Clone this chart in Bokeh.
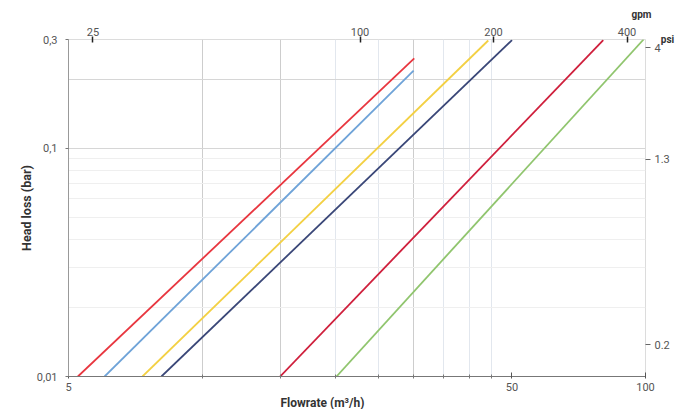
import math
from bokeh.plotting import figure
from bokeh.models import LogAxis, FixedTicker, Grid, Title, CustomJSTickFormatter
from bokeh.embed import file_html
from bokeh.resources import INLINE

# ---- data ----
series_names = ["A", "B", "C", "D", "E", "F"]
series_colors = ["#e8363f", "#6fa3d8", "#f3d043", "#3a4778", "#cf1f3c", "#90c56e"]
flow_start = [5.25, 6.03, 7.34, 8.10, 15.0, 20.1]      # m3/h at head loss 0.01 bar
flow_end = [30.1, 30.0, 44.2, 50.0, 80.3, 99.0]        # m3/h at end of line
head_start = [0.01, 0.01, 0.01, 0.01, 0.01, 0.01]      # bar
head_end = [0.248, 0.219, 0.297, 0.298, 0.298, 0.30]   # bar

x_ticks = [5, 50, 100]
x_minor = [10, 15, 20, 25, 30, 35, 40, 45]
y_ticks = [0.01, 0.1, 0.3]
gpm_ticks = [25, 100, 200, 400]
psi_ticks = [4, 1.3, 0.2]
GPM = 0.2271247   # m3/h per gpm
PSI = 0.0689476   # bar per psi

grid_x_dark = [10, 15, 30]
grid_x_light = [20, 25, 35, 40, 45]
grid_y_dark = [0.1, 0.2]
grid_y_light = [0.02, 0.03, 0.04, 0.05, 0.06, 0.07, 0.08, 0.09]

FONT = "Roboto"

p = figure(width=690, height=409, x_axis_type="log", y_axis_type="log",
           x_range=(5, 100), y_range=(0.01, 0.3),
           output_backend="svg", toolbar_location=None,
           min_border_left=68, min_border_top=39, min_border_right=45, min_border_bottom=33)
p.title.visible = False
p.grid.grid_line_color = None
p.outline_line_color = "#dcdcdc"
p.background_fill_color = "white"
p.border_fill_color = "white"

# grids
p.add_layout(Grid(dimension=0, ticker=FixedTicker(ticks=grid_x_light), grid_line_color="#e2e7ee"))
p.add_layout(Grid(dimension=0, ticker=FixedTicker(ticks=grid_x_dark), grid_line_color="#cdcdcd"))
p.add_layout(Grid(dimension=1, ticker=FixedTicker(ticks=grid_y_light), grid_line_color="#efefef"))
p.add_layout(Grid(dimension=1, ticker=FixedTicker(ticks=grid_y_dark), grid_line_color="#d6d6d6"))

# lines
for i in range(len(series_names)):
    p.line([flow_start[i], flow_end[i]], [head_start[i], head_end[i]],
           line_color=series_colors[i], line_width=1.8)

# bottom axis
xa = p.xaxis[0]
xa.ticker = FixedTicker(ticks=x_ticks, minor_ticks=x_minor)
xa.formatter = CustomJSTickFormatter(code="return tick.toString();")
xa.axis_line_color = "#777777"
xa.major_tick_in = 4
xa.major_tick_out = 2
xa.minor_tick_in = 2
xa.minor_tick_out = 2
xa.major_tick_line_color = "#555555"
xa.minor_tick_line_color = "#777777"
xa.major_label_standoff = 4
xa.major_label_text_font = FONT
xa.major_label_text_font_size = "11px"
xa.major_label_text_color = "#555555"

# left axis
ya = p.yaxis[0]
ya.ticker = FixedTicker(ticks=y_ticks)
ya.formatter = CustomJSTickFormatter(code="return tick.toString().replace('.', ',');")
ya.axis_line_color = "#999999"
ya.major_tick_in = 0
ya.major_tick_out = 3
ya.minor_tick_line_color = None
ya.major_tick_line_color = "#777777"
ya.major_label_standoff = 8
ya.major_label_text_font = FONT
ya.major_label_text_font_size = "11px"
ya.major_label_text_color = "#555555"
ya.axis_label = "Head loss (bar)"
ya.axis_label_standoff = 0
ya.axis_label_text_font = FONT
ya.axis_label_text_font_size = "12.5px"
ya.axis_label_text_font_style = "bold"
ya.axis_label_text_color = "#333333"

# top axis (gpm)
top = LogAxis(ticker=FixedTicker(ticks=[g * GPM for g in gpm_ticks]),
              formatter=CustomJSTickFormatter(code="return Math.round(tick/%f).toString();" % GPM),
              axis_line_color=None, major_tick_in=3, major_tick_out=3,
              major_tick_line_color="#222222", major_tick_line_width=1.5,
              minor_tick_line_color=None, major_label_standoff=1,
              major_label_text_font=FONT, major_label_text_font_size="11px",
              major_label_text_color="#555555")
p.add_layout(top, "above")

# right axis (psi)
right = LogAxis(ticker=FixedTicker(ticks=[v * PSI for v in psi_ticks]),
                formatter=CustomJSTickFormatter(code="return (Math.round(tick/%f*10)/10).toString();" % PSI),
                axis_line_color=None, major_tick_in=0, major_tick_out=5,
                major_tick_line_color="#666666",
                minor_tick_line_color=None, major_label_standoff=4,
                major_label_text_font=FONT, major_label_text_font_size="11px",
                major_label_text_color="#555555")
p.add_layout(right, "right")

props = right.properties()
if "axis_label_align" in props:
    right.axis_label = "psi"
    right.axis_label_align = "end"
    right.axis_label_orientation = "horizontal"
    right.axis_label_standoff = -12
    right.axis_label_text_font = FONT
    right.axis_label_text_font_size = "10px"
    right.axis_label_text_font_style = "bold"
    right.axis_label_text_color = "#333333"

# gpm unit label (above, right aligned)
p.add_layout(Title(text="gpm", align="right", offset=-6, standoff=6, vertical_align="top",
                   text_font=FONT, text_font_size="10px", text_font_style="bold",
                   text_color="#333333"), "above")

# x axis title (below)
p.add_layout(Title(text="Flowrate  (m³/h)", align="left", offset=212, standoff=0,
                   text_font=FONT, text_font_size="12px", text_font_style="bold",
                   text_color="#333333"), "below")

open("out.html", "w").write(file_html(p, INLINE))
